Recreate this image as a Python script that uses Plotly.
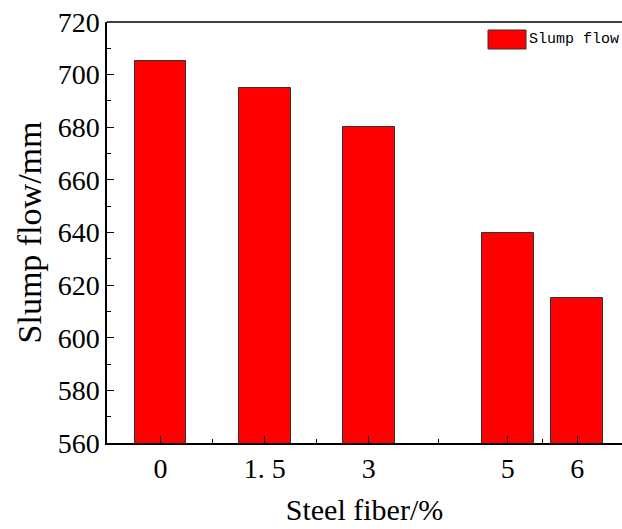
import plotly.graph_objects as go

# data
x_pos = [0, 1.5, 3, 5, 6]
x_labels = ["0", "1. 5", "3", "5", "6"]
slump_flow = [705, 695, 680, 640, 615]
minor_x = [0.75, 2.25, 4, 5.5]
series_name = "Slump flow"

serif = "Times New Roman"
mono = "Liberation Mono"

fig = go.Figure()
fig.add_trace(go.Bar(
    x=x_pos, y=slump_flow, width=0.745, name=series_name,
    marker=dict(color="#ff0000", line=dict(color="#333333", width=1)),
    showlegend=False,
))

fig.update_layout(
    width=622, height=529,
    margin=dict(l=107, r=0, t=22, b=86),
    plot_bgcolor="white", paper_bgcolor="white",
    bargap=0,
    font=dict(family=serif, color="black"),
    xaxis=dict(
        range=[-0.77, 6.645],
        tickmode="array", tickvals=x_pos, ticktext=x_labels,
        ticks="inside", ticklen=7, tickwidth=1.2, tickcolor="black",
        showline=True, linecolor="black", linewidth=1.5,
        showgrid=False, zeroline=False,
        tickfont=dict(family=serif, size=28, color="black", weight="normal"),
        title=dict(text="Steel fiber/%", font=dict(family=serif, size=30, color="black"), standoff=16),
        minor=dict(tickmode="array", tickvals=minor_x, ticks="inside", ticklen=4, tickwidth=1.2, tickcolor="black", showgrid=False),
    ),
    yaxis=dict(
        range=[560, 720],
        tickmode="linear", tick0=560, dtick=20,
        ticks="inside", ticklen=7, tickwidth=1.2, tickcolor="black",
        showline=True, linecolor="black", linewidth=1.5,
        showgrid=False, zeroline=False,
        tickfont=dict(family=serif, size=28, color="black", weight="normal"),
        title=dict(text="Slump flow/mm", font=dict(family=serif, size=34, color="black"), standoff=6),
        minor=dict(tickmode="linear", tick0=570, dtick=20, ticks="inside", ticklen=4, tickwidth=1.2, tickcolor="black", showgrid=False),
    ),
)

# top frame line
fig.add_shape(type="line", xref="paper", yref="paper", x0=0, x1=1, y0=1, y1=1,
              line=dict(color="black", width=1.5))

# manual legend
fig.add_shape(type="rect", xref="paper", yref="paper",
              x0=(488 - 107) / 515, x1=(526 - 107) / 515,
              y0=(443 - 49) / 421, y1=(443 - 30) / 421,
              fillcolor="#ff0000", line=dict(color="#333333", width=1))
fig.add_annotation(xref="paper", yref="paper", x=(527 - 107) / 515, y=(443 - 39.5) / 421,
                   xanchor="left", yanchor="middle", showarrow=False,
                   text=series_name, font=dict(family=mono, size=15, color="black"))

fig.write_html("out.html")
